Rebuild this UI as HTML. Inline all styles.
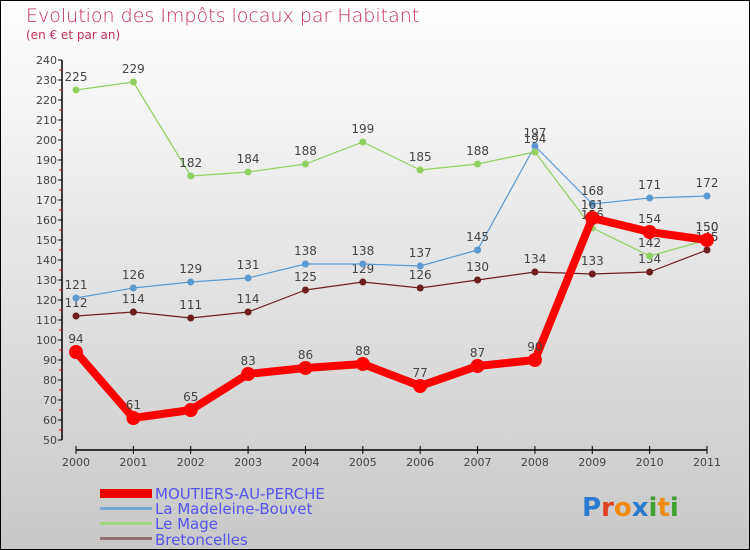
<!DOCTYPE html>
<html><head><meta charset="utf-8"><style>
html,body{margin:0;padding:0}
body{width:750px;height:550px;overflow:hidden;font-family:"DejaVu Sans","Liberation Sans",sans-serif}
#wrap{position:absolute;left:0;top:0;width:748px;height:548px;border:1px solid #000;background:linear-gradient(#fff,#c8c8c8)}
</style></head><body>
<div id="wrap">
<svg id="chart" width="750" height="550" style="position:absolute;left:-1px;top:-1px">
<text x="26" y="22" font-size="19" fill="#c0305a" font-family="DejaVu Sans, sans-serif" font-weight="200">Evolution des Impôts locaux par Habitant</text>
<text x="26" y="39" font-size="12" fill="#c0305a">(en € et par an)</text>
<g id="axes"></g><g id="series"></g>
<g>
<rect x="100" y="489" width="52" height="9" fill="#e00"/>
<text x="155" y="499" font-size="15" fill="#5555ee">MOUTIERS-AU-PERCHE</text>
<rect x="100" y="507" width="52" height="3" fill="#7aa7d0"/>
<text x="155" y="514" font-size="15" fill="#5555ee">La Madeleine-Bouvet</text>
<rect x="100" y="522" width="52" height="3" fill="#9ed67a"/>
<text x="155" y="529" font-size="15" fill="#5555ee">Le Mage</text>
<rect x="100" y="537" width="52" height="3" fill="#957070"/>
<text x="155" y="545" font-size="15" fill="#5555ee">Bretoncelles</text>
</g>
<text x="582" y="516" font-size="26" font-weight="bold"><tspan fill="#2a7ad0">P</tspan><tspan fill="#e04020">r</tspan><tspan fill="#f08a10">o</tspan><tspan fill="#2a7ad0">x</tspan><tspan fill="#40a030">i</tspan><tspan fill="#f08a10">t</tspan><tspan fill="#40a030">i</tspan></text>
</svg>
</div>
<script>
const years=[2000,2001,2002,2003,2004,2005,2006,2007,2008,2009,2010,2011];
const moutiers=[94,61,65,83,86,88,77,87,90,161,154,150];
const madeleine=[121,126,129,131,138,138,137,145,197,168,171,172];
const lemage=[225,229,182,184,188,199,185,188,194,156,142,150];
const bretoncelles=[112,114,111,114,125,129,126,130,134,133,134,145];
const yTicks=[50,60,70,80,90,100,110,120,130,140,150,160,170,180,190,200,210,220,230,240];
const NS="http://www.w3.org/2000/svg";
const x=i=>76+i*(707-76)/11;
const y=v=>440-(v-50)*2;
function mk(tag,attrs,parent){const e=document.createElementNS(NS,tag);for(const k in attrs)e.setAttribute(k,attrs[k]);parent.appendChild(e);return e;}
const ax=document.getElementById('axes');
let l=mk('line',{x1:62,y1:y(240),x2:62,y2:y(50),stroke:'#000','stroke-width':1.5},ax);


yTicks.forEach(v=>{
  mk('line',{x1:58,x2:62,y1:y(v),y2:y(v),stroke:'#000'},ax);
  if(v<240)mk('line',{x1:59,x2:62,y1:y(v+5),y2:y(v+5),stroke:'#e00'},ax);
  const t=mk('text',{x:57,y:y(v)+4,'font-size':11,fill:'#444','text-anchor':'end'},ax);
  t.textContent=v;
  
  
});
l=mk('line',{x1:76,y1:450,x2:707,y2:450,stroke:'#000','stroke-width':1.5},ax);


years.forEach((yr,i)=>{
  mk('line',{x1:x(i),x2:x(i),y1:446,y2:454,stroke:'#000'},ax);
  const t=mk('text',{x:x(i),y:466,'font-size':11,fill:'#444','text-anchor':'middle'},ax);
  t.textContent=yr;
  
  
});
const sg=document.getElementById('series');
function draw(vals,color,w,r,name){
  const g=mk('g',{},sg);
  
  
  mk('polyline',{points:vals.map((v,i)=>x(i)+','+y(v)).join(' '),fill:'none',stroke:color,'stroke-width':w,'stroke-linejoin':'round'},g);
  vals.forEach((v,i)=>{
    const c=mk('circle',{cx:x(i),cy:y(v),r:r,fill:color},g);
    
    
    const t=mk('text',{x:x(i),y:y(v)-9,'font-size':12,fill:'#444','text-anchor':'middle'},g);
    t.textContent=v;
    
    
  });
}
draw(bretoncelles,'#6e1e1e',1.2,3.5,'series-bretoncelles');
draw(madeleine,'#5a9ad0',1.2,3.5,'series-madeleine');
draw(lemage,'#8fd060',1.2,3.5,'series-lemage');
draw(moutiers,'#f00',8,7,'series-moutiers');
</script>
</body></html>
